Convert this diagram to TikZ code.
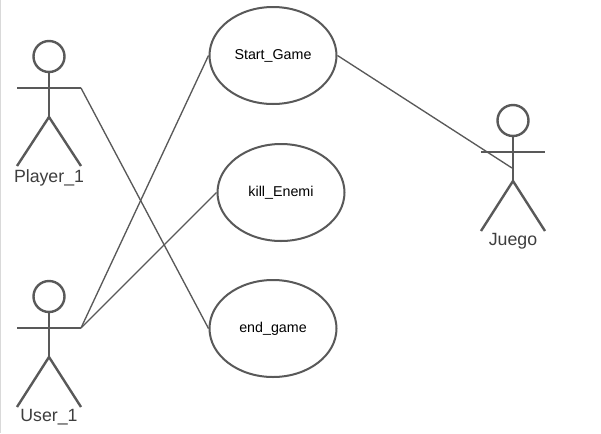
\documentclass[tikz,border=0pt]{standalone}
\usepackage{fontspec}
\setmainfont{Liberation Sans}
\usepackage{xcolor}
\definecolor{ActorGrey}{HTML}{595959}
\usetikzlibrary{shapes.geometric,positioning}
\newlength{\pxu}
\setlength{\pxu}{0.75pt}
\tikzset{
  usecase/.style={draw=ActorGrey, line width=1.5pt, ellipse, minimum width=127\pxu, minimum height=97\pxu, inner sep=0pt, font=\fontsize{10.7pt}{12pt}\selectfont, text=black},
  limb/.style={draw=ActorGrey, line width=1.8pt},
  link/.style={draw=ActorGrey, line width=1pt},
  actorname/.style={inner sep=0pt, font=\fontsize{13.3pt}{15pt}\selectfont, text=ActorGrey!70!black}
}
\begin{document}
\begin{tikzpicture}[x=0.75pt,y=-0.75pt]
  \useasboundingbox (0,0) rectangle (601,433);
  \fill[white] (0,0) rectangle (601,433);
  \draw[black!15, line width=1pt] (0.5,0) -- (0.5,433);

  % --- Casos de uso ---
  \node[usecase] (start) at (273,55.5) {Start\_Game};
  \node[usecase] (kill) at (281,192.5) {kill\_Enemi};
  \node[usecase] (end) at (273,328.5) {end\_game};

  % --- Player_1 ---
  \node[limb, circle, minimum size=31\pxu, inner sep=0pt] (headP) at (49,56.5) {};
  \coordinate (hipP) at (49,117);
  \coordinate (armPl) at (17,88);
  \coordinate (armPr) at (81,88);
  \coordinate (footPl) at (17,166);
  \coordinate (footPr) at (81,166);
  \draw[limb] (headP.south) -- (hipP);
  \draw[limb] (armPl) -- (armPr);
  \draw[limb] (footPl) -- (hipP) -- (footPr);
  \node[actorname] (nameP) at (49,177.5) {Player\_1};

  % --- User_1 ---
  \node[limb, circle, minimum size=31\pxu, inner sep=0pt] (headU) at (49,296.5) {};
  \coordinate (hipU) at (49,357);
  \coordinate (armUl) at (17,328);
  \coordinate (armUr) at (81,328);
  \coordinate (footUl) at (17,407);
  \coordinate (footUr) at (81,407);
  \draw[limb] (headU.south) -- (hipU);
  \draw[limb] (armUl) -- (armUr);
  \draw[limb] (footUl) -- (hipU) -- (footUr);
  \node[actorname] (nameU) at (49,417.5) {User\_1};

  % --- Juego ---
  \node[limb, circle, minimum size=31\pxu, inner sep=0pt] (headJ) at (513,120.5) {};
  \coordinate (hipJ) at (513,181);
  \coordinate (armJl) at (481,152);
  \coordinate (armJr) at (545,152);
  \coordinate (footJl) at (481,231);
  \coordinate (footJr) at (545,231);
  \coordinate (touchJ) at (512,168);
  \draw[limb] (headJ.south) -- (hipJ);
  \draw[limb] (armJl) -- (armJr);
  \draw[limb] (footJl) -- (hipJ) -- (footJr);
  \node[actorname] (nameJ) at (513,241) {Juego};

  % --- Enlaces ---
  \draw[link] (armPr) -- (end.west);
  \draw[link] (armUr) -- (start.west);
  \draw[link] (armUr) -- (kill.west);
  \draw[link] (start.east) -- (touchJ);
\end{tikzpicture}
\end{document}
